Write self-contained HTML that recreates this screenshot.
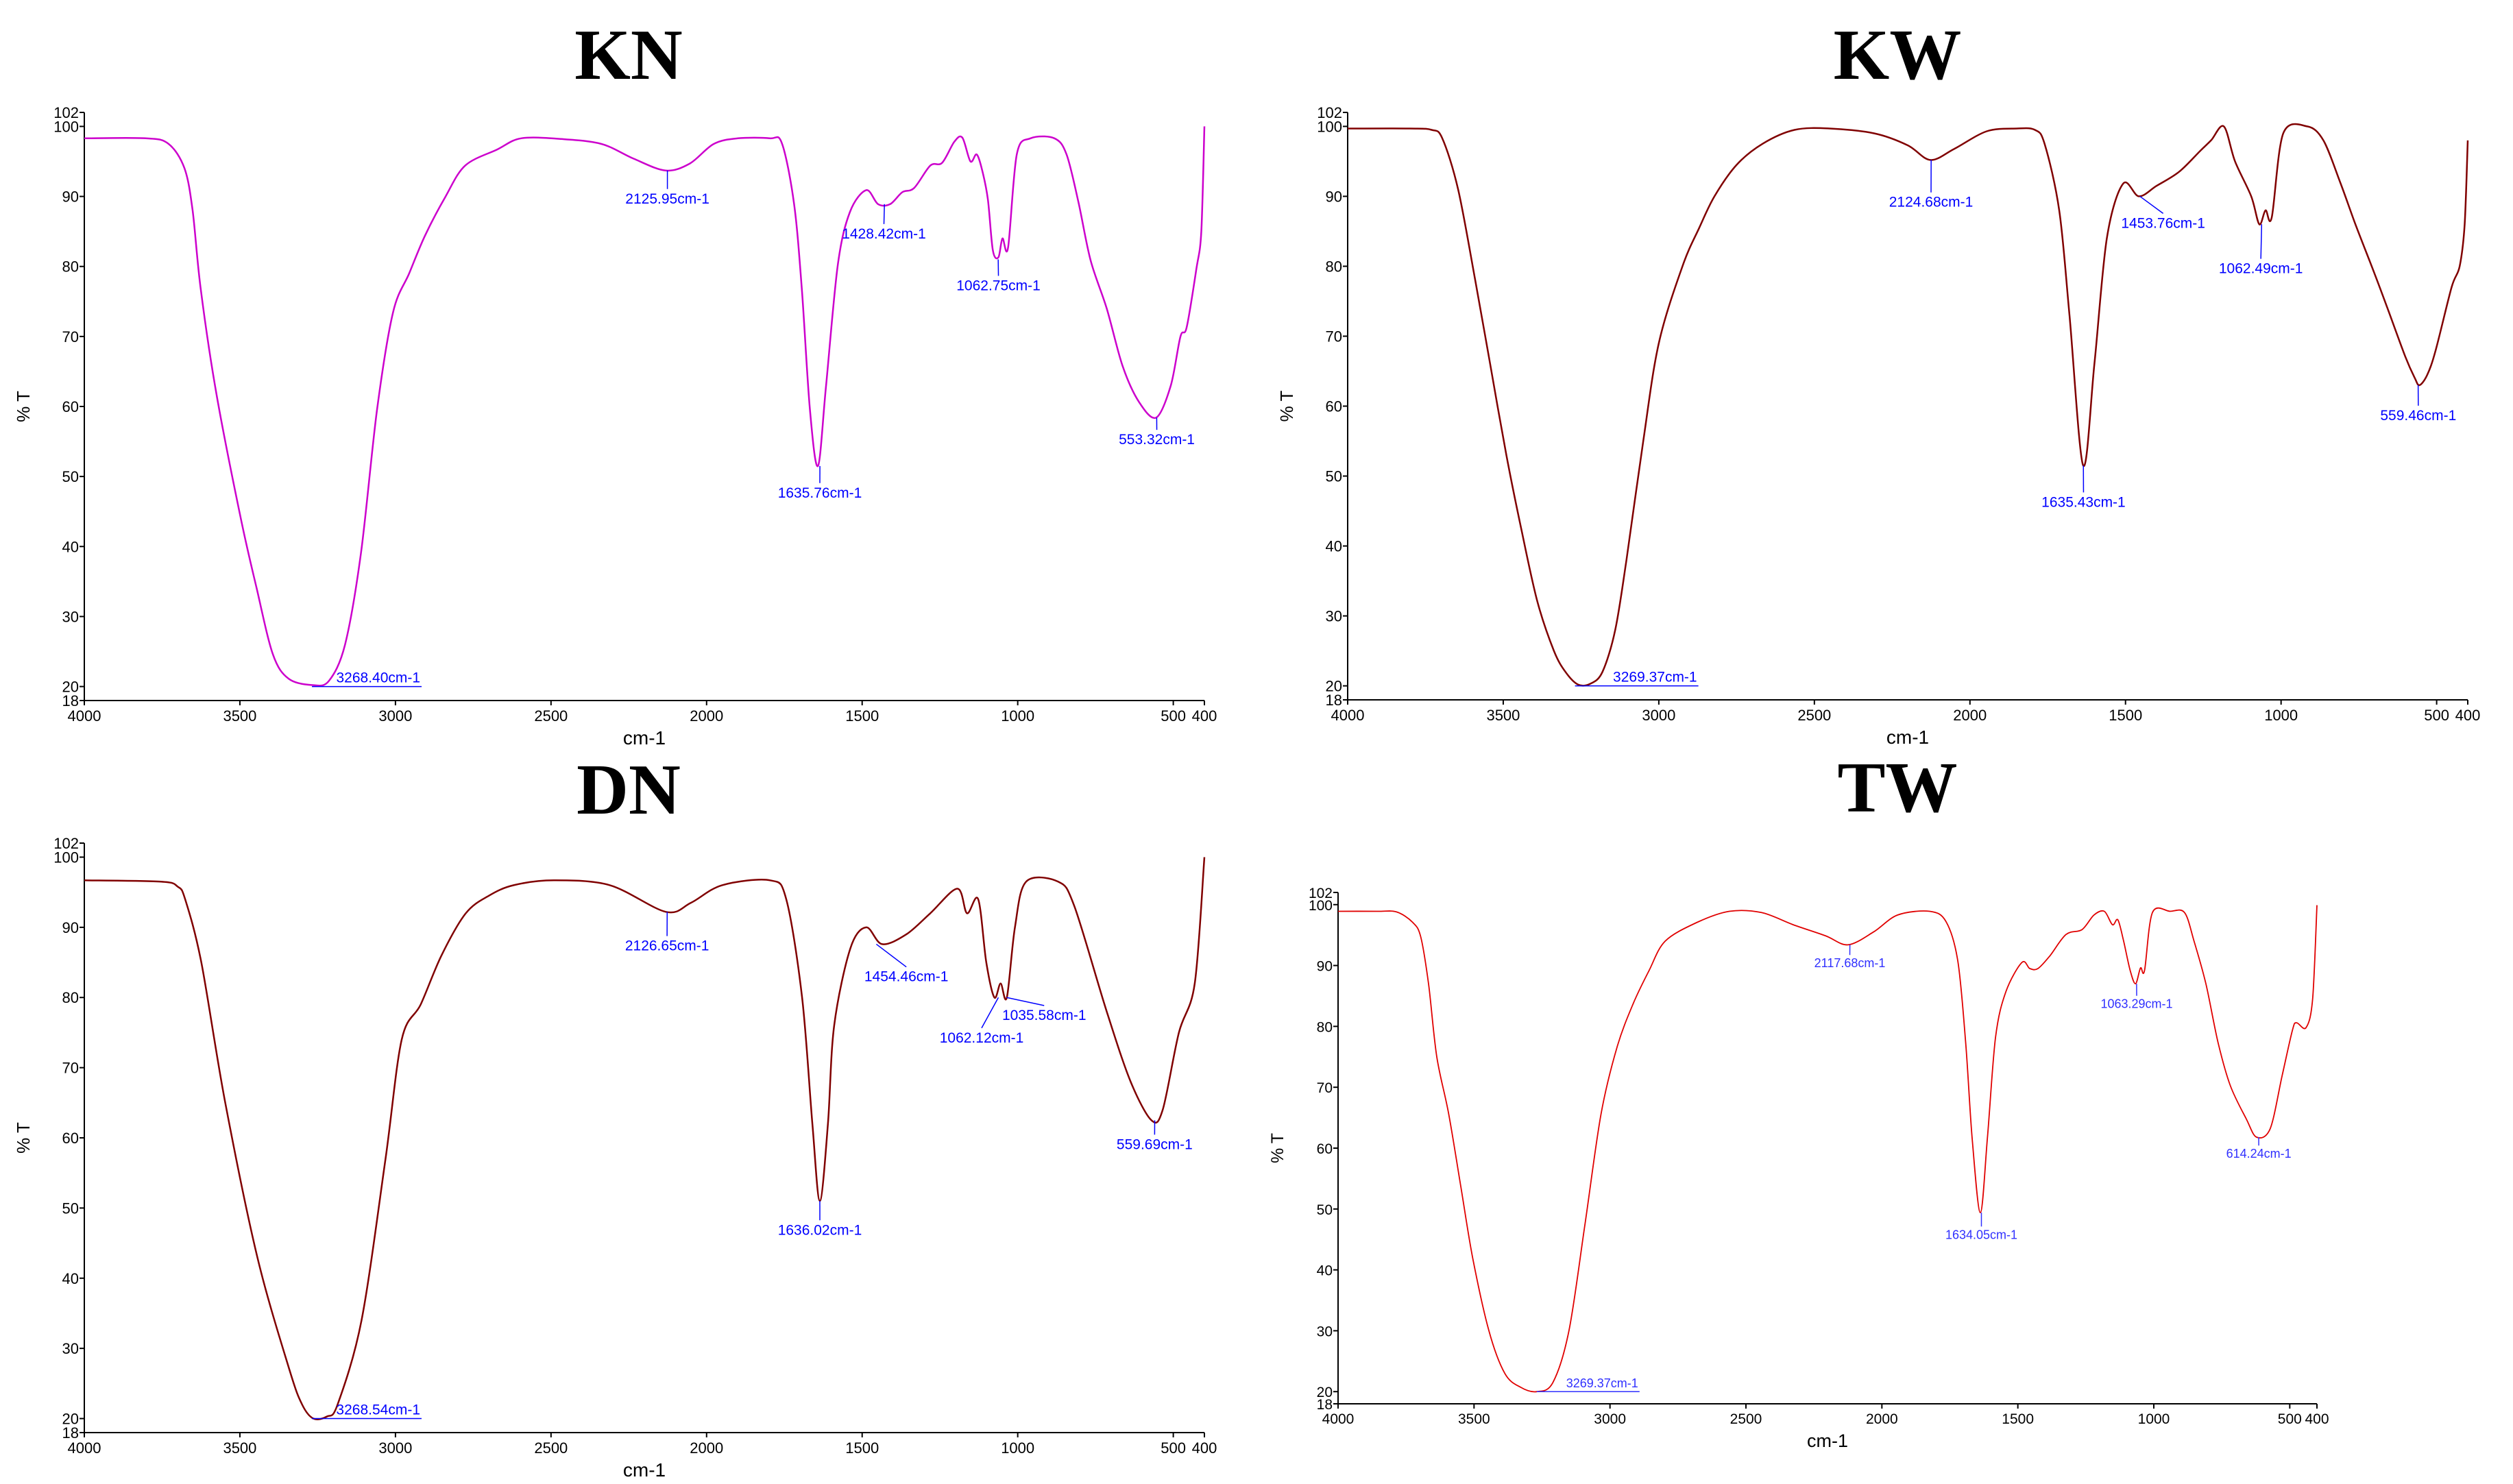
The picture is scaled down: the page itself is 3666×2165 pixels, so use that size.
<!DOCTYPE html>
<html><head><meta charset="utf-8"><style>
html,body{margin:0;padding:0;background:#fff}
svg{display:block}
text{font-family:"Liberation Sans",sans-serif}
</style></head><body>
<svg id="fig" xmlns="http://www.w3.org/2000/svg" width="3666" height="2165" viewBox="0 0 3666 2165"></svg>
<script>
// ---- data (wavenumber cm-1, %T) ----
const knWn=[4000,3802,3729,3678,3652,3626,3575,3497,3446,3394,3343,3266,3214,3162,3111,3059,3008,2956,2905,2840,2776,2673,2596,2467,2338,2235,2132,2054,1977,1900,1797,1758,1719,1694,1668,1642,1616,1578,1539,1487,1449,1410,1371,1333,1281,1243,1204,1178,1152,1132,1114,1096,1080,1062,1049,1031,1003,959,882,843,805,766,714,663,611,555,508,477,457,426,410,400];
const knT=[98.3,98.3,97.5,94,88,76.8,61.7,44,34,24.6,21.1,20.2,20.8,26,39,59.6,73.4,79,84.4,89.9,94.4,96.7,98.3,98.2,97.5,95.4,93.7,94.7,97.5,98.3,98.3,97.6,89,76.8,59.6,51.5,63,80.3,87.8,90.9,88.9,88.9,90.6,91.2,94.4,94.8,97.8,98.4,95,96,93.7,89.6,82.3,81.3,84,82.7,96,98.3,98.3,96,89.2,80.9,74,65.8,60.7,58.4,63,70,71.3,79.6,85,100];
const kwWn=[4000,3800,3730,3696,3645,3590,3542,3490,3440,3390,3337,3300,3260,3220,3181,3140,3104,3050,3000,2924,2870,2821,2750,2667,2564,2450,2307,2200,2127,2050,1946,1850,1791,1760,1713,1680,1636,1600,1560,1508,1457,1400,1328,1260,1225,1184,1148,1096,1070,1050,1030,993,916,864,810,761,700,658,600,570,555,530,503,452,426,410,400];
const kwT=[99.7,99.7,99.5,98.3,91,78,66,53,42,32,25,22,20.2,20.3,22,28,38,55,69,80,85.5,90,94.5,97.5,99.5,99.7,99,97.3,95.2,96.8,99.3,99.7,99.5,97.5,88,73,51.5,66,84,91.8,90,91.5,93.5,96.5,98,100,95,90,86,88,87,99,100,98,92,86,79,74,67,64,63,64.5,68,77,80,86,98];
const dnWn=[4000,3753,3700,3676,3624,3547,3444,3341,3300,3264,3220,3186,3109,3032,2980,2919,2852,2774,2700,2620,2491,2311,2131,2050,1950,1796,1744,1693,1660,1636,1610,1590,1538,1487,1436,1358,1281,1194,1163,1127,1101,1075,1055,1035,1009,973,870,818,714,637,570,534,482,431,400];
const dnT=[96.7,96.5,95.8,94,85,65,43,27,22,20,20.3,22,34,57,74,79,86,92,94.5,96,96.7,96,92.2,93.5,96,96.7,94,80,62,51,62,76,87,90,87.6,89,92,95.5,92,94,85,80,82,80,90,96.5,96.5,93,78,68,62.5,64,75,82,100];
const twWn=[4000,3858,3785,3726,3696,3667,3637,3593,3549,3505,3446,3387,3328,3269,3210,3151,3092,3033,2974,2915,2856,2797,2679,2561,2443,2326,2208,2125,2031,1942,1824,1764,1721,1692,1668,1638,1612,1582,1544,1485,1456,1426,1382,1323,1264,1220,1182,1152,1132,1111,1087,1067,1049,1034,1005,940,887,852,808,764,719,660,622,572,528,490,475,440,416,400];
const twT=[98.9,98.9,98.8,97.1,94.7,86.9,75,65.6,53.8,42,30.1,23,20.7,20,21.5,30,47.5,65.6,76.6,83.7,89.2,94,97.1,98.9,98.7,96.7,94.9,93.4,95.5,98.3,98.9,97.2,90.8,77.4,61.6,49.4,61.6,78.2,85.7,90.5,89.5,89.5,91.6,95.1,95.9,98.3,98.9,96.7,97.5,94,89.2,87,89.6,89.2,98.7,98.9,98.7,94,86.9,77.4,70.3,64.8,61.8,63.2,71.9,79.4,80.6,79.8,84.5,99.9];
// peak annotations: peak wavenumber, %T at peak, label wavenumber (x), label %T
const knPeaks=[2125.95,1428.42,1062.75,553.32,1635.76];
const knPeakT=[93.7,88.9,81,58.4,51.5];
const knLabW=[2126,1430,1062,553,1636];
const knLabT=[89,84,76.6,54.6,47];
const kwPeaks=[2124.68,1453.76,1062.49,559.46,1635.43];
const kwPeakT=[95.2,90,86,63,51.5];
const kwLabW=[2125,1379,1065,559,1635];
const kwLabT=[88.5,85.5,79,58,45.6];
const dnPeaks=[2126.65,1454.46,1062.12,1035.58,559.69,1636.02];
const dnPeakT=[92.2,87.6,80,80,62.5,51];
const dnLabW=[2127,1358,1116,915,560,1636];
const dnLabT=[86.7,82.3,73.6,76.8,58.4,46.2];
const twPeaks=[2117.68,1063.29,614.24,1634.05];
const twPeakT=[93.4,87,61.8,49.4];
const twLabW=[2118,1063,614,1634];
const twLabT=[89.7,83,58.4,45.1];
const xTicks=[4000,3500,3000,2500,2000,1500,1000,500,400];
const yTicks=[18,20,30,40,50,60,70,80,90,100,102];

const NS="http://www.w3.org/2000/svg";
const svg=document.getElementById('fig');
function mk(tag,attrs,parent){const e=document.createElementNS(NS,tag);for(const k in attrs)e.setAttribute(k,attrs[k]);(parent||svg).appendChild(e);return e;}
function smooth(P){
  let d=`M${P[0][0].toFixed(1)},${P[0][1].toFixed(1)}`;
  for(let i=0;i<P.length-1;i++){
    const p0=P[i-1]||P[i],p1=P[i],p2=P[i+1],p3=P[i+2]||P[i+1];
    const k=0.16;
    const c1=[p1[0]+(p2[0]-p0[0])*k,p1[1]+(p2[1]-p0[1])*k];
    const c2=[p2[0]-(p3[0]-p1[0])*k,p2[1]-(p3[1]-p1[1])*k];
    d+=`C${c1[0].toFixed(1)},${c1[1].toFixed(1)} ${c2[0].toFixed(1)},${c2[1].toFixed(1)} ${p2[0].toFixed(1)},${p2[1].toFixed(1)}`;
  }
  return d;
}

function panel(p){
  const g=mk('g',{});
  
  
  const X=w=>p.l+(4000-w)/3600*(p.r-p.l);
  const Y=t=>p.t+(102-t)/84*(p.b-p.t);
  const title=mk('text',{x:p.tx,y:p.ty,'text-anchor':'middle','font-size':105,'font-weight':'bold',style:'font-family:"Liberation Serif",serif'},g);
  title.textContent=p.name.toUpperCase();
  
  
  const ax=mk('path',{d:`M${p.l},${p.t}V${p.b}H${p.r}`,stroke:'#000','stroke-width':2,fill:'none'},g);
  
  
  yTicks.forEach(v=>{
    const y=Y(v);
    mk('line',{x1:p.l-7,x2:p.l,y1:y,y2:y,stroke:'#000','stroke-width':2},g);
    const t=mk('text',{x:p.l-8,y:y+8,'text-anchor':'end','font-size':p.fs},g);
    t.textContent=v;
    
    
  });
  xTicks.forEach(v=>{
    const x=X(v);
    mk('line',{x1:x,x2:x,y1:p.b,y2:p.b+7,stroke:'#000','stroke-width':2},g);
    const t=mk('text',{x:x,y:p.b+p.fs+8,'text-anchor':'middle','font-size':p.fs},g);
    t.textContent=v;
    
    
  });
  const xt=mk('text',{x:(p.l+p.r)/2,y:p.b+p.fs+42,'text-anchor':'middle','font-size':p.fs+6},g);
  xt.textContent='cm-1';
  
  
  const ym=(p.t+p.b)/2;
  const yx=p.l-80;
  const yt=mk('text',{x:yx,y:ym,'text-anchor':'middle','font-size':p.fs+4,transform:`rotate(-90 ${yx} ${ym})`},g);
  yt.textContent='% T';
  
  
  const P=p.wn.map((w,i)=>[X(w),Y(p.tv[i])]);
  const line=mk('path',{d:smooth(P),fill:'none',stroke:p.color,'stroke-width':p.sw,'stroke-linejoin':'round'},g);
  
  
  const mx=X(p.minWn),my=Y(20);
  mk('line',{x1:mx,x2:mx+p.minLen,y1:my,y2:my,stroke:p.lab,'stroke-width':1.5},g);
  const mt=mk('text',{x:mx+p.minLen-2,y:my-6,'text-anchor':'end','font-size':p.lfs,fill:p.lab},g);
  mt.textContent=p.minWn.toFixed(2)+'cm-1';
  
  
  p.pk.forEach((w,i)=>{
    const x=X(w),y1=Y(p.pkT[i]),lx=X(p.labW[i]),y2=Y(p.labT[i])-p.lfs;
    mk('line',{x1:x,x2:lx,y1:y1,y2:y2,stroke:p.lab,'stroke-width':1.5},g);
    const t=mk('text',{x:lx,y:Y(p.labT[i]),'text-anchor':'middle','font-size':p.lfs,fill:p.lab},g);
    t.textContent=w.toFixed(2)+'cm-1';
    
    
  });
}
panel({name:'kn',l:123,r:1757,t:164,b:1022,tx:917,ty:115,fs:22,lfs:21,color:'#cc00cc',sw:2.5,lab:'#0000ff',wn:knWn,tv:knT,pk:knPeaks,pkT:knPeakT,labW:knLabW,labT:knLabT,minWn:3268.40,minLen:160});
panel({name:'kw',l:1966,r:3600,t:164,b:1021,tx:2768,ty:115,fs:22,lfs:21,color:'#800000',sw:2.5,lab:'#0000ff',wn:kwWn,tv:kwT,pk:kwPeaks,pkT:kwPeakT,labW:kwLabW,labT:kwLabT,minWn:3269.37,minLen:180});
panel({name:'dn',l:123,r:1757,t:1230,b:2090,tx:917,ty:1187,fs:22,lfs:21,color:'#800000',sw:2.5,lab:'#0000ff',wn:dnWn,tv:dnT,pk:dnPeaks,pkT:dnPeakT,labW:dnLabW,labT:dnLabT,minWn:3268.54,minLen:160});
panel({name:'tw',l:1952,r:3380,t:1302,b:2048,tx:2768,ty:1184,fs:21,lfs:18,color:'#e00000',sw:1.8,lab:'#3030ff',wn:twWn,tv:twT,pk:twPeaks,pkT:twPeakT,labW:twLabW,labT:twLabT,minWn:3269.37,minLen:150});
</script>
</body></html>
